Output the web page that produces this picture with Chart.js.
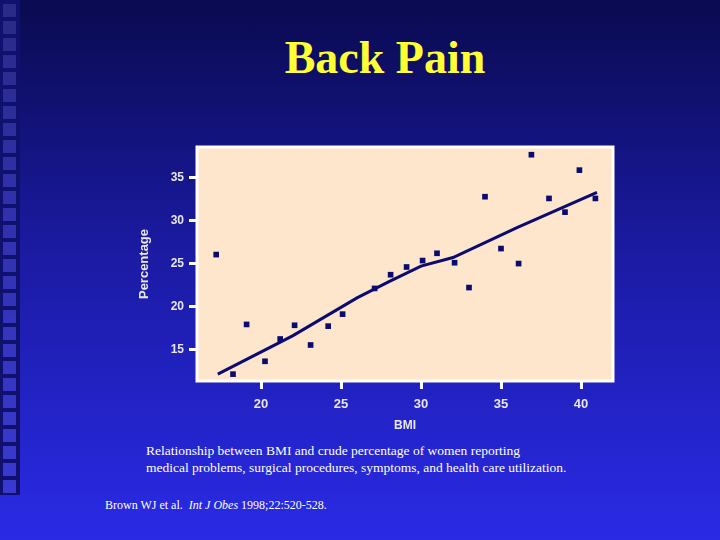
<!DOCTYPE html>
<html><head><meta charset="utf-8">
<script src="https://cdn.jsdelivr.net/npm/chart.js@4"></script>
<style>
body{margin:0;width:720px;height:540px;overflow:hidden;position:relative;
 background:linear-gradient(180deg,#0a0a50 0%,#1a1aa0 45%,#2a2ae6 100%);font-family:"Liberation Serif",serif}
#strip{position:absolute;left:0;top:0;width:20px;height:495px;background-color:rgba(80,80,200,0.45);
 background-image:linear-gradient(90deg,#10106e 0 3px,transparent 3px 16px,#10106e 16px),
 linear-gradient(180deg,#10106e 0 4px,transparent 4px);background-size:20px 17px}
h1{position:absolute;left:0;width:770px;top:31px;margin:0;text-align:center;color:#ffff33;font-size:46px;font-weight:bold}
#cap{position:absolute;left:146px;top:442px;color:#fff;font-size:13.5px;line-height:17px}
#ref{position:absolute;left:105px;top:498px;color:#fff;font-size:12px}
canvas{position:absolute;left:0;top:0}
</style></head><body>
<div id="strip"></div>
<h1>Back Pain</h1>
<div id="cap">Relationship between BMI and crude percentage of women reporting<br>medical problems, surgical procedures, symptoms, and health care utilization.</div>
<div id="ref">Brown WJ et al. &nbsp;<i>Int J Obes</i> 1998;22:520-528.</div>
<canvas id="c" width="720" height="540"></canvas>
<script>
var bmi = [17.2,18.25,19.1,20.25,21.2,22.1,23.1,24.2,25.1,27.1,28.1,29.1,30.1,31.0,32.1,33.0,34.0,35.0,36.1,36.9,38.0,39.0,39.9,40.9];
var pct = [26.05,12.1,17.9,13.6,16.2,17.8,15.5,17.7,19.1,22.1,23.7,24.6,25.35,26.2,25.1,22.2,32.8,26.75,25.0,37.7,32.6,31.0,35.9,32.6];
var fitX = [17.3,22,26,28,30,32,36,41];
var fitY = [12.1,16.6,21.0,22.9,24.7,25.7,29.2,33.3];
var xTicks = [20,25,30,35,40];
var yTicks = [15,20,25,30,35];

var bgPlugin = {
  id:'bg',
  beforeDraw: function(c){
    var a = c.chartArea, g = c.ctx;
    g.save();
    g.fillStyle = '#fde6cc';
    g.fillRect(a.left,a.top,a.right-a.left,a.bottom-a.top);
    g.strokeStyle = '#ffffff'; g.lineWidth = 3;
    g.strokeRect(a.left,a.top,a.right-a.left,a.bottom-a.top);
    g.restore();
  }
};

new Chart(document.getElementById('c').getContext('2d'), {
  type:'scatter',
  data:{datasets:[
    {data: bmi.map(function(v,i){return {x:v,y:pct[i]};}), pointStyle:'rect', pointRadius:4,
     backgroundColor:'#0a0a70', borderColor:'#0a0a70', borderWidth:0},
    {type:'line', data: fitX.map(function(v,i){return {x:v,y:fitY[i]};}), borderColor:'#0a0a70',
     borderWidth:3, pointRadius:0, fill:false, tension:0}
  ]},
  options:{
    responsive:false, animation:false,
    layout:{padding:{left:137,top:147,right:107,bottom:107}},
    plugins:{legend:{display:false},tooltip:{enabled:false}},
    scales:{
      x:{type:'linear', min:16, max:42,
        afterBuildTicks:function(s){s.ticks = xTicks.map(function(v){return {value:v};});},
        afterFit:function(s){s.height = 52;},
        border:{display:false},
        grid:{drawOnChartArea:false, tickLength:8, lineWidth:3, color:'#ffffff'},
        ticks:{color:'#e8e8f0', font:{family:'Liberation Sans', size:13, weight:'bold'}, padding:8},
        title:{display:true, text:'BMI', color:'#e8e8f0', font:{family:'Liberation Sans', size:12, weight:'bold'}, padding:{top:6,bottom:0}}
      },
      y:{type:'linear', min:11.3, max:38.6,
        afterBuildTicks:function(s){s.ticks = yTicks.map(function(v){return {value:v};});},
        afterFit:function(s){s.width = 60;},
        border:{display:false},
        grid:{drawOnChartArea:false, tickLength:8, lineWidth:3, color:'#ffffff'},
        ticks:{color:'#e8e8f0', font:{family:'Liberation Sans', size:12, weight:'bold'}, padding:5},
        title:{display:true, text:'Percentage', color:'#e8e8f0', font:{family:'Liberation Sans', size:13, weight:'bold'}, padding:0}
      }
    }
  },
  plugins:[bgPlugin]
});
</script>
</body></html>
